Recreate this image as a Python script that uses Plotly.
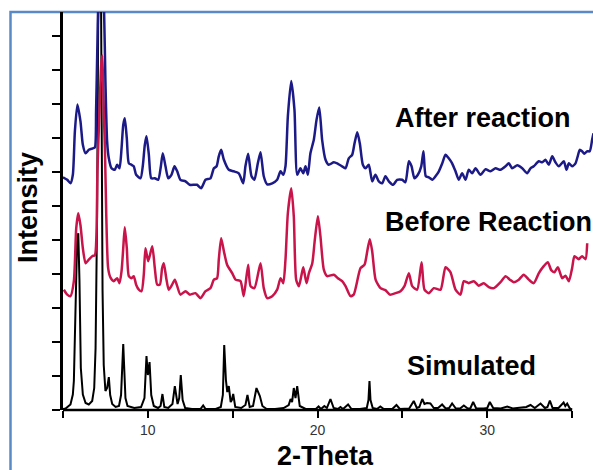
import plotly.graph_objects as go

# ---- data (2-theta in degrees, intensity in arbitrary units) ----
sim_x = [5.0, 5.15, 5.44, 5.58, 5.64, 5.74, 5.83, 5.9, 5.97, 6.05, 6.17, 6.33, 6.52, 6.72, 6.84, 6.92,
         7.01, 7.07, 7.15, 7.24, 7.28, 7.33, 7.4, 7.5, 7.6, 7.7, 7.78, 7.9, 8.1, 8.3, 8.42, 8.5, 8.55,
         8.6, 8.68, 8.8, 9.2, 9.6, 9.8, 9.92, 10.0, 10.1, 10.2, 10.35, 10.6, 10.75, 10.86, 10.97, 11.2,
         11.45, 11.59, 11.75, 11.85, 11.94, 12.05, 12.2, 12.6, 13.1, 13.26, 13.4, 14.0, 14.3, 14.42,
         14.5, 14.6, 14.68, 14.77, 14.88, 14.95, 15.03, 15.15, 15.5, 15.75, 15.87, 16.0, 16.2, 16.4,
         16.6, 16.75, 17.0, 17.5, 18.0, 18.3, 18.41, 18.5, 18.6, 18.7, 18.8, 18.95, 19.3, 19.9, 20.06,
         20.2, 20.4, 20.55, 20.76, 20.95, 21.2, 21.35, 21.5, 21.8, 22.0, 22.5, 22.9, 23.0, 23.06, 23.12,
         23.25, 23.5, 23.7, 23.9, 24.4, 24.65, 24.85, 25.4, 25.67, 25.85, 26.0, 26.17, 26.3, 26.45,
         26.65, 26.85, 27.1, 27.34, 27.55, 27.75, 27.93, 28.15, 28.4, 28.62, 28.85, 29.0, 29.17, 29.35,
         29.8, 30.0, 30.15, 30.35, 30.8, 31.18, 31.5, 32.0, 32.3, 32.55, 32.8, 33.14, 33.4, 33.55,
         33.69, 33.85, 34.2, 34.5, 34.6, 34.71, 34.85, 35.0]
sim_y = [1, 1.5, 5.5, 15.5, 29, 95, 169, 177, 130, 42, 15.5, 7, 5.5, 9, 22, 62,
         195, 380, 520, 420, 250, 120, 45, 19, 22, 33, 15, 6, 3, 4, 15, 50, 66,
         45, 12, 4, 2, 3, 12, 54, 35, 48, 15, 4, 2, 4, 16, 3, 2,
         6, 24, 6, 12, 35, 10, 2, 1, 1, 4.5, 1, 1, 3, 15,
         65, 30, 18, 24, 8, 10, 16, 3, 2, 5, 15, 3, 4, 22,
         14, 4, 1, 1, 2, 5, 11, 8, 22, 12, 24, 4, 1, 1, 3.5,
         1, 4, 2, 11, 2, 1, 3, 1, 5.5, 1, 1, 2, 10, 29, 10,
         2, 1, 3.5, 1, 1, 5, 1, 1.5, 9, 2, 3, 11, 6, 7,
         6.5, 2, 2, 5.5, 1.5, 2, 6.5, 1.5, 1.5, 4.5, 1.5, 1.5, 8, 1.5,
         1.5, 2, 8, 2, 1.5, 3.5, 1.5, 2, 3, 5, 2, 6.5, 2, 3,
         9.5, 2, 2, 7.5, 4, 6.5, 2, 0.5]

before_x = [5.05, 5.25, 5.44, 5.64, 5.78, 5.9, 6.03, 6.17, 6.33, 6.52, 6.72, 6.88, 6.97, 7.03, 7.15,
            7.25, 7.31, 7.36, 7.42, 7.47, 7.55, 7.66, 7.8, 7.99, 8.19, 8.33, 8.45, 8.55, 8.64, 8.76,
            8.88, 9.04, 9.17, 9.31, 9.47, 9.63, 9.76, 9.86, 10.02, 10.26, 10.41, 10.55, 10.71, 10.84,
            10.94, 11.08, 11.23, 11.43, 11.59, 11.73, 11.92, 12.22, 12.47, 12.8, 13.1, 13.4, 13.69,
            13.89, 14.08, 14.18, 14.32, 14.48, 14.67, 14.97, 15.17, 15.46, 15.65, 15.91, 16.05, 16.28,
            16.64, 16.83, 17.03, 17.33, 17.62, 17.82, 17.98, 18.11, 18.25, 18.45, 18.6, 18.74, 18.9,
            19.04, 19.16, 19.35, 19.49, 19.69, 19.84, 20.02, 20.17, 20.37, 20.57, 20.96, 21.2, 21.45,
            21.65, 21.94, 22.13, 22.53, 22.77, 22.93, 23.08, 23.22, 23.42, 23.71, 24.0, 24.26, 24.6,
            24.89, 25.12, 25.38, 25.58, 25.87, 26.13, 26.3, 26.56, 26.85, 27.25, 27.54, 27.83, 28.13,
            28.42, 28.62, 28.91, 29.21, 29.5, 29.8, 30.09, 30.39, 30.78, 31.08, 31.33, 31.56, 31.86,
            32.15, 32.45, 32.74, 33.04, 33.33, 33.57, 33.77, 33.96, 34.16, 34.42, 34.61, 34.81, 35.0,
            35.14, 35.39, 35.59, 35.79, 35.89]
before_y = [120.5, 115.5, 114, 129, 182, 197, 185, 162, 147, 150.5, 154, 155, 175, 240, 300,
            345, 355, 330, 290, 262, 195, 142, 132.5, 129, 132, 127, 139, 162, 183, 162,
            134, 132, 134, 125.5, 120.5, 119, 135.5, 162, 149, 164, 142, 125.5, 125.5, 142,
            147, 132.5, 120.5, 125.5, 130.5, 124, 115.5, 119, 115.5, 117, 112, 119, 122,
            130.5, 132, 150.5, 172, 159, 145.5, 137, 130.5, 129, 114, 145.5, 124, 122,
            147, 122, 112, 114, 120.5, 132, 127, 150.5, 197, 222, 194, 130.5, 124,
            134, 143, 127, 137, 147, 170.5, 194, 174, 140.5, 134, 135.5, 132, 129,
            124, 114, 115.5, 142, 145.5, 159, 171, 159, 130.5, 122, 120, 115.5, 117,
            119, 124, 137, 124, 120.5, 148, 120.5, 117, 122, 120.5, 143, 138, 120.5,
            115.5, 129, 127, 129, 124.5, 127, 123, 122, 128, 134, 130.5, 128, 130.5,
            135.5, 130.5, 127, 137, 144, 148, 140, 138, 143, 132, 134.5, 129, 142,
            154, 151, 154, 151, 167]

after_x = [5.0, 5.25, 5.44, 5.58, 5.7, 5.85, 6.03, 6.17, 6.33, 6.52, 6.76, 6.88, 6.95, 7.02, 7.08,
           7.25, 7.42, 7.5, 7.6, 7.7, 7.86, 8.05, 8.19, 8.33, 8.45, 8.55, 8.64, 8.76, 8.88, 9.04,
           9.17, 9.31, 9.57, 9.71, 9.82, 9.92, 10.06, 10.2, 10.41, 10.61, 10.75, 10.88, 11.04, 11.2,
           11.39, 11.57, 11.73, 11.92, 12.22, 12.47, 12.9, 13.14, 13.4, 13.69, 13.89, 14.05, 14.18,
           14.32, 14.48, 14.77, 15.06, 15.36, 15.62, 15.75, 15.91, 16.11, 16.28, 16.48, 16.64, 16.83,
           17.03, 17.33, 17.62, 17.82, 17.98, 18.11, 18.25, 18.45, 18.64, 18.8, 18.99, 19.16, 19.29,
           19.43, 19.58, 19.78, 19.94, 20.1, 20.27, 20.47, 20.66, 20.96, 21.2, 21.45, 21.65, 21.84,
           22.04, 22.18, 22.34, 22.49, 22.67, 22.83, 23.02, 23.22, 23.41, 23.61, 23.81, 24.0, 24.2,
           24.46, 24.69, 24.99, 25.18, 25.38, 25.54, 25.71, 25.91, 26.11, 26.24, 26.38, 26.56, 26.76,
           26.95, 27.15, 27.35, 27.54, 27.73, 27.93, 28.13, 28.32, 28.52, 28.72, 28.91, 29.11, 29.31,
           29.6, 29.9, 30.19, 30.49, 30.78, 31.08, 31.27, 31.47, 31.77, 32.06, 32.35, 32.55, 32.74,
           33.04, 33.24, 33.43, 33.63, 33.83, 34.02, 34.22, 34.51, 34.67, 34.81, 35.0, 35.2, 35.33,
           35.45, 35.59, 35.72, 35.88, 36.04, 36.18, 36.26]
after_y = [233, 230.5, 227, 235.5, 279, 306, 289, 265.5, 257, 260.5, 262, 263, 300, 360, 410,
           470, 400, 329, 269, 252, 242, 240.5, 245.5, 242, 262, 285.5, 292, 272, 247, 245.5,
           244, 235.5, 232, 245.5, 265.5, 274, 255.5, 232, 232, 230.5, 242, 257, 244, 232,
           235.5, 244, 239, 230.5, 229, 225.5, 225.5, 222, 230.5, 232, 242, 244, 254,
           260.5, 250.5, 240.5, 239, 237, 227, 244, 256.5, 234, 230.5, 247, 258, 234,
           226, 227, 230.5, 239, 235.5, 244, 294, 329.5, 300.5, 235.5, 242, 237, 244,
           235.5, 257, 270.5, 290.5, 303, 270.5, 250.5, 245.5, 248, 246.5, 244, 242, 252,
           255.5, 267, 278, 267, 245.5, 242, 245.5, 229, 235.5, 229, 227, 234, 229,
           225.5, 230.5, 230.5, 228, 249, 244, 232, 235.5, 244, 259, 234, 233, 230.5,
           234, 239, 247, 255.5, 252, 247, 239, 230.5, 237, 230.5, 240.5, 237, 242,
           235.5, 241, 239, 242, 240.5, 244, 247, 242, 245, 242, 237, 242, 244,
           249, 248, 250.5, 245.5, 254, 248, 244, 249, 240.5, 247, 244, 247, 254,
           260.5, 259, 256.5, 259, 259, 270.5, 277]

x_tickvals = [5, 10, 15, 20, 25, 30, 35]
x_ticktext = ["", "10", "", "20", "", "30", ""]
series_labels = ["After reaction", "Before Reaction", "Simulated"]
axis_titles = ["2-Theta", "Intensity"]

BLUE = "#1c1a86"
RED = "#c8144a"
BLACK = "#000000"
FONT = "Liberation Sans, Arial, Helvetica, sans-serif"

fig = go.Figure()
fig.add_trace(go.Scatter(x=sim_x, y=sim_y, mode="lines", line=dict(color=BLACK, width=2)))
fig.add_trace(go.Scatter(x=before_x, y=before_y, mode="lines",
                         line=dict(color=RED, width=2.5, shape="spline", smoothing=0.6)))
fig.add_trace(go.Scatter(x=after_x, y=after_y, mode="lines",
                         line=dict(color=BLUE, width=2.5, shape="spline", smoothing=0.6)))

L, R, T, B = 63, 0, 12, 60
W, H = 593, 470
pw = W - L - R
ph = H - T - B
px_per_deg = 16.97
xmax = 5 + pw / px_per_deg
ymax = 398.5


def paper_x(px):
    return (px - L) / pw


def paper_y(py):
    return (H - B - py) / ph


fig.update_layout(
    width=W, height=H,
    margin=dict(l=L, r=R, t=T, b=B),
    paper_bgcolor="white", plot_bgcolor="white",
    showlegend=False,
    font=dict(family=FONT, color="black"),
    xaxis=dict(range=[5, xmax], showline=False, showgrid=False, zeroline=False,
               tickvals=x_tickvals, ticktext=x_ticktext, ticks="outside", ticklen=7,
               tickwidth=2, tickcolor="black",
               tickfont=dict(size=14, color="#333333", family=FONT)),
    yaxis=dict(range=[0, ymax], showline=True, linecolor="black", linewidth=2.5,
               showgrid=False, zeroline=False, ticks="outside", ticklen=8, tickwidth=2,
               tickcolor="black", tickvals=[34 * i for i in range(12)],
               showticklabels=False),
)

# x-axis line only from 5 to 35
fig.add_shape(type="line", xref="x", yref="paper", x0=5, x1=35, y0=0, y1=0,
              line=dict(color="black", width=2.5))
# outer blue frame (left and top edges visible)
fig.add_shape(type="rect", xref="paper", yref="paper",
              x0=paper_x(10.5), x1=paper_x(640), y0=paper_y(520), y1=paper_y(12),
              line=dict(color="#5a89c8", width=2.5), fillcolor="rgba(0,0,0,0)", layer="below")

label_pos = [(393, 118), (383, 222), (405, 366)]
for txt, (lx, ly) in zip(series_labels, label_pos):
    fig.add_annotation(text="<b>%s</b>" % txt, xref="paper", yref="paper",
                       x=paper_x(lx), y=paper_y(ly), xanchor="left", yanchor="middle",
                       showarrow=False, font=dict(size=27, color="black", family=FONT))

fig.add_annotation(text="<b>%s</b>" % axis_titles[0], xref="paper", yref="paper",
                   x=paper_x(325), y=paper_y(456), xanchor="center", yanchor="middle",
                   showarrow=False, font=dict(size=27, color="black", family=FONT))
fig.add_annotation(text="<b>%s</b>" % axis_titles[1], xref="paper", yref="paper",
                   x=paper_x(28), y=paper_y(208), xanchor="center", yanchor="middle",
                   textangle=-90, showarrow=False, font=dict(size=27, color="black", family=FONT))

fig.write_html("out.html")
